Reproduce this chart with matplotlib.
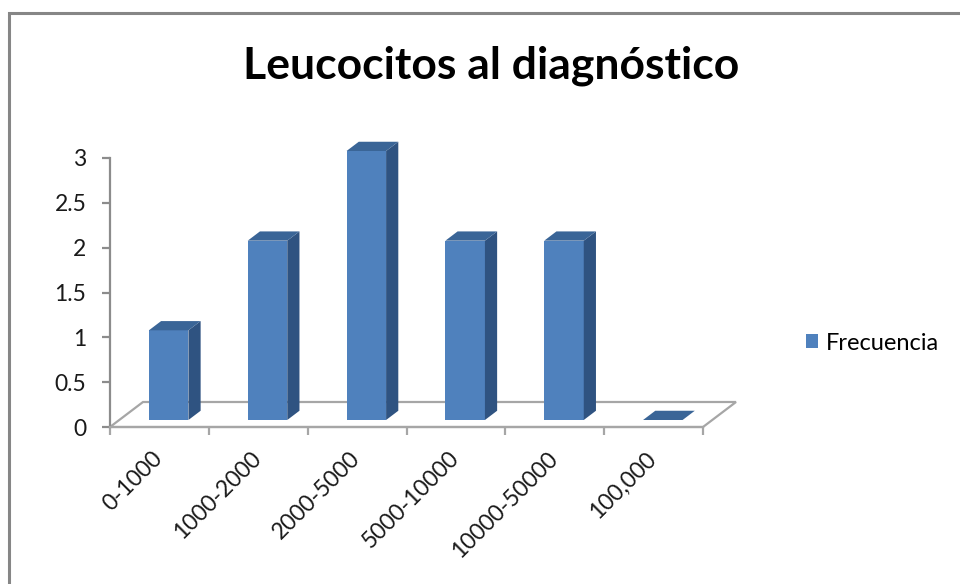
import matplotlib.pyplot as plt
import numpy as np
from matplotlib.patches import Polygon, Rectangle

plt.rcParams['font.family'] = ['Lato', 'DejaVu Sans']

# datos
categorias = ["0-1000", "1000-2000", "2000-5000", "5000-10000", "10000-50000", "100,000"]
frecuencia = [1, 2, 3, 2, 2, 0]
y_ticks = [0, 0.5, 1, 1.5, 2, 2.5, 3]
y_labels = ["0", "0.5", "1", "1.5", "2", "2.5", "3"]

frente = "#4F81BD"
lado = "#2F5381"
tapa = "#3A6597"
gris = "#8C8C8C"
fs = 16.5

W, H = 960, 584
fig = plt.figure(figsize=(W / 100, H / 100), dpi=100)

# ejes: x=-0.5 -> px 110, x=5.5 -> px 703 ; y=0 -> px 427, y=3 -> px 158
px_x = (703 - 110) / 6.0
px_y = (427 - 158) / 3.0
ymax = 3.3
ax = fig.add_axes([110 / W, (H - 427) / H, 593 / W, ymax * px_y / H])
ax.set_xlim(-0.5, 5.5)
ax.set_ylim(0, ymax)

# profundidad del piso en unidades de datos
dx = 33 / px_x
dy = 25 / px_y
d0, d1 = 0.28, 0.65  # posicion del frente y fondo de cada barra
ancho = 0.4

x = np.arange(len(categorias))

# piso
piso = Polygon([(-0.5, 0), (5.5, 0), (5.5 + dx, dy), (-0.5 + dx, dy)],
               closed=True, facecolor="white", edgecolor="#A6A6A6", lw=1.6,
               clip_on=False, zorder=1)
ax.add_patch(piso)

# barras (cara frontal)
x0 = x + d0 * dx
b0 = d0 * dy
barras = ax.bar(x0, frecuencia, width=ancho, bottom=b0, color=frente,
                edgecolor="none", zorder=3, label="Frecuencia", clip_on=False)

ddx = (d1 - d0) * dx
ddy = (d1 - d0) * dy
for xi, v in zip(x0, frecuencia):
    l, r = xi - ancho / 2, xi + ancho / 2
    top = b0 + v
    if v > 0:
        ax.add_patch(Polygon([(r, b0), (r + ddx, b0 + ddy), (r + ddx, top + ddy), (r, top)],
                             closed=True, facecolor=lado, edgecolor="none", zorder=3, clip_on=False))
    ax.add_patch(Polygon([(l, top), (r, top), (r + ddx, top + ddy), (l + ddx, top + ddy)],
                         closed=True, facecolor=tapa, edgecolor="none", zorder=3, clip_on=False))

# eje y
for s in ["top", "right"]:
    ax.spines[s].set_visible(False)
ax.spines["left"].set_bounds(0, 3)
ax.spines["left"].set_color(gris)
ax.spines["left"].set_linewidth(1.6)
ax.spines["bottom"].set_color("#A6A6A6")
ax.spines["bottom"].set_linewidth(1.6)
ax.set_yticks(y_ticks)
ax.set_yticklabels(y_labels)
ax.tick_params(axis="y", length=6, width=1.6, color=gris, labelsize=fs, pad=11,
               labelcolor="#1A1A1A")

# eje x: marcas entre categorias, etiquetas en el centro
ax.set_xticks(np.arange(-0.5, 6.0, 1.0))
ax.set_xticklabels([])
ax.tick_params(axis="x", which="major", length=6, width=1.6, color="#A6A6A6")
ax.set_xticks(x - 0.08, minor=True)
ax.set_xticklabels(categorias, minor=True, rotation=45, ha="right", va="top",
                   rotation_mode="anchor", fontsize=fs, color="#1A1A1A")
ax.tick_params(axis="x", which="minor", length=0, pad=15)

ax.patch.set_visible(False)

# titulo
fig.text(491 / W, 1 - 79 / H, "Leucocitos al diagnóstico", ha="center", va="baseline",
         fontsize=32, fontweight="bold", color="black")

# leyenda
fig.legend(handles=[barras], labels=["Frecuencia"], loc="center left",
           bbox_to_anchor=(806 / W, 1 - 343 / H), frameon=False, fontsize=17,
           handlelength=0.5, handleheight=0.5, handletextpad=0.35,
           borderaxespad=0, borderpad=0)

# borde del grafico
fig.patches.append(Rectangle((9 / W, -0.1), 1.1, 1 - 13 / H + 0.1, transform=fig.transFigure,
                             fill=False, edgecolor="#868686", lw=2.2, figure=fig))

fig.savefig("out.png", dpi=100)
